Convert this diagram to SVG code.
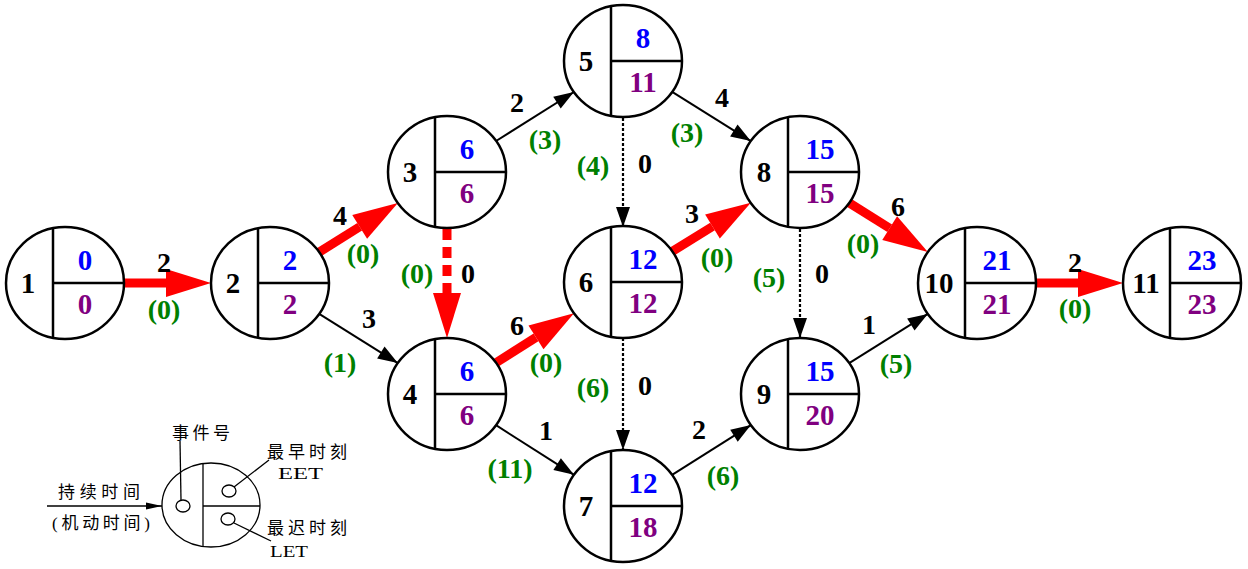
<svg xmlns="http://www.w3.org/2000/svg" width="1248" height="569" viewBox="0 0 1248 569">
<style>
  .node ellipse { fill: #ffffff; stroke: #000; stroke-width: 2.5; }
  .node line { stroke: #000; stroke-width: 2.5; }
  .num { font-family: "Liberation Serif", serif; font-weight: bold; font-size: 29px; text-anchor: middle; fill: #000; }
  .eet { font-family: "Liberation Serif", serif; font-weight: bold; font-size: 29px; text-anchor: middle; fill: #0000ff; }
  .let { font-family: "Liberation Serif", serif; font-weight: bold; font-size: 29px; text-anchor: middle; fill: #800080; }
  .w { font-family: "Liberation Serif", serif; font-weight: bold; font-size: 28px; text-anchor: middle; fill: #000; }
  .f { font-family: "Liberation Serif", serif; font-weight: bold; font-size: 28px; text-anchor: middle; fill: #008000; }
  .crit { stroke: #ff0000; stroke-width: 9; fill: none; marker-end: url(#redhead); }
  .norm { stroke: #000; stroke-width: 2; fill: none; marker-end: url(#blackhead); }
  .dot { stroke: #000; stroke-width: 2.2; stroke-dasharray: 3 2; fill: none; marker-end: url(#blackhead); }
  .leg { font-family: "Liberation Serif", "Noto Sans CJK SC", serif; font-size: 17px; fill: #000; }
  .legl { stroke: #000; stroke-width: 1.3; fill: none; }
</style>
<defs>
  <marker id="blackhead" markerUnits="userSpaceOnUse" markerWidth="22" markerHeight="16" refX="20" refY="7" orient="auto" overflow="visible">
    <path d="M0,0 L20,7 L0,14 z" fill="#000"/>
  </marker>
  <marker id="redhead" markerUnits="userSpaceOnUse" markerWidth="46" markerHeight="30" refX="0" refY="14" orient="auto" overflow="visible">
    <path d="M0,0 L45,14 L0,28 z" fill="#ff0000"/>
  </marker>
  <marker id="leghead" markerUnits="userSpaceOnUse" markerWidth="18" markerHeight="8" refX="16" refY="3.5" orient="auto" overflow="visible">
    <path d="M0,0 L16,3.5 L0,7 z" fill="#000"/>
  </marker>
</defs>
<rect width="1248" height="569" fill="#ffffff"/>

<g id="connectors">
  <line class="crit" x1="124" y1="283" x2="166" y2="283"/>
  <line class="crit" x1="319.2" y1="252.1" x2="359.7" y2="226.8"/>
  <line class="norm" x1="319.2" y1="313.9" x2="397.8" y2="363.1"/>
  <line class="norm" x1="496.1" y1="141" x2="573.9" y2="92"/>
  <line x1="447" y1="229" x2="447" y2="293" stroke="#ff0000" stroke-width="9" stroke-dasharray="11 7" marker-end="url(#redhead)"/>
  <line class="norm" x1="672.2" y1="91.9" x2="750.8" y2="141.1"/>
  <line class="crit" x1="496" y1="362.8" x2="536" y2="337.4"/>
  <line class="norm" x1="496" y1="425.2" x2="574" y2="474.8"/>
  <line class="dot" x1="623" y1="118" x2="623" y2="227"/>
  <line class="dot" x1="623" y1="338" x2="623" y2="450"/>
  <line class="crit" x1="672.3" y1="251.3" x2="712.5" y2="226.5"/>
  <line class="norm" x1="672.1" y1="474.9" x2="750.9" y2="425.1"/>
  <line class="dot" x1="800" y1="229" x2="800" y2="338" stroke-width="3.5" stroke-dasharray="4 2"/>
  <line class="crit" x1="849.2" y1="202.9" x2="889.7" y2="228.2"/>
  <line class="norm" x1="849.2" y1="363.1" x2="927.8" y2="313.9"/>
  <line class="crit" x1="1036" y1="283" x2="1078" y2="283"/>

  <text class="w" x="164" y="272">2</text><text class="f" x="164" y="319">(0)</text>
  <text class="w" x="340" y="225">4</text><text class="f" x="363" y="263">(0)</text>
  <text class="w" x="369" y="328">3</text><text class="f" x="340" y="372">(1)</text>
  <text class="w" x="517" y="112">2</text><text class="f" x="545" y="149">(3)</text>
  <text class="f" x="417" y="283">(0)</text><text class="w" x="468" y="283">0</text>
  <text class="w" x="517" y="335">6</text><text class="f" x="546" y="372">(0)</text>
  <text class="w" x="546" y="440">1</text><text class="f" x="510" y="478">(11)</text>
  <text class="f" x="593" y="175">(4)</text><text class="w" x="645" y="173">0</text>
  <text class="w" x="722" y="107">4</text><text class="f" x="687" y="142">(3)</text>
  <text class="w" x="692" y="223">3</text><text class="f" x="717" y="267">(0)</text>
  <text class="f" x="593" y="397">(6)</text><text class="w" x="645" y="395">0</text>
  <text class="w" x="699" y="439">2</text><text class="f" x="723" y="485">(6)</text>
  <text class="f" x="769" y="287">(5)</text><text class="w" x="822" y="283">0</text>
  <text class="w" x="898" y="216">6</text><text class="f" x="863" y="253">(0)</text>
  <text class="w" x="869" y="334">1</text><text class="f" x="896" y="373">(5)</text>
  <text class="w" x="1075" y="272">2</text><text class="f" x="1075" y="318">(0)</text>
</g>

<g id="node1" class="node">
  <ellipse cx="65" cy="283" rx="59" ry="56"/>
  <line x1="53" y1="228.2" x2="53" y2="337.8"/><line x1="53" y1="283" x2="124" y2="283"/>
  <text class="num" x="28" y="293">1</text><text class="eet" x="85" y="270">0</text><text class="let" x="85" y="314">0</text>
</g>
<g id="node2" class="node">
  <ellipse cx="270" cy="283" rx="59" ry="56"/>
  <line x1="258" y1="228.2" x2="258" y2="337.8"/><line x1="258" y1="283" x2="329" y2="283"/>
  <text class="num" x="233" y="293">2</text><text class="eet" x="290" y="270">2</text><text class="let" x="290" y="314">2</text>
</g>
<g id="node3" class="node">
  <ellipse cx="447" cy="172" rx="59" ry="56"/>
  <line x1="435" y1="117.2" x2="435" y2="226.8"/><line x1="435" y1="172" x2="506" y2="172"/>
  <text class="num" x="410" y="182">3</text><text class="eet" x="467" y="159">6</text><text class="let" x="467" y="203">6</text>
</g>
<g id="node4" class="node">
  <ellipse cx="447" cy="394" rx="59" ry="56"/>
  <line x1="435" y1="339.2" x2="435" y2="448.8"/><line x1="435" y1="394" x2="506" y2="394"/>
  <text class="num" x="410" y="404">4</text><text class="eet" x="467" y="381">6</text><text class="let" x="467" y="425">6</text>
</g>
<g id="node5" class="node">
  <ellipse cx="623" cy="61" rx="59" ry="56"/>
  <line x1="611" y1="6.2" x2="611" y2="115.8"/><line x1="611" y1="61" x2="682" y2="61"/>
  <text class="num" x="586" y="71">5</text><text class="eet" x="643" y="48">8</text><text class="let" x="643" y="92">11</text>
</g>
<g id="node6" class="node">
  <ellipse cx="623" cy="282" rx="59" ry="56"/>
  <line x1="611" y1="227.2" x2="611" y2="336.8"/><line x1="611" y1="282" x2="682" y2="282"/>
  <text class="num" x="586" y="292">6</text><text class="eet" x="643" y="269">12</text><text class="let" x="643" y="313">12</text>
</g>
<g id="node7" class="node">
  <ellipse cx="623" cy="506" rx="59" ry="56"/>
  <line x1="611" y1="451.2" x2="611" y2="560.8"/><line x1="611" y1="506" x2="682" y2="506"/>
  <text class="num" x="586" y="516">7</text><text class="eet" x="643" y="493">12</text><text class="let" x="643" y="537">18</text>
</g>
<g id="node8" class="node">
  <ellipse cx="800" cy="172" rx="59" ry="56"/>
  <line x1="788" y1="117.2" x2="788" y2="226.8"/><line x1="788" y1="172" x2="859" y2="172"/>
  <text class="num" x="764" y="182">8</text><text class="eet" x="820" y="159">15</text><text class="let" x="820" y="203">15</text>
</g>
<g id="node9" class="node">
  <ellipse cx="800" cy="394" rx="59" ry="56"/>
  <line x1="788" y1="339.2" x2="788" y2="448.8"/><line x1="788" y1="394" x2="859" y2="394"/>
  <text class="num" x="764" y="404">9</text><text class="eet" x="820" y="381">15</text><text class="let" x="820" y="425">20</text>
</g>
<g id="node10" class="node">
  <ellipse cx="977" cy="283" rx="59" ry="56"/>
  <line x1="965" y1="228.2" x2="965" y2="337.8"/><line x1="965" y1="283" x2="1036" y2="283"/>
  <text class="num" x="939" y="293">10</text><text class="eet" x="997" y="270">21</text><text class="let" x="997" y="314">21</text>
</g>
<g id="node11" class="node">
  <ellipse cx="1182" cy="283" rx="59" ry="56"/>
  <line x1="1170" y1="228.2" x2="1170" y2="337.8"/><line x1="1170" y1="283" x2="1241" y2="283"/>
  <text class="num" x="1146" y="293">11</text><text class="eet" x="1202" y="270">23</text><text class="let" x="1202" y="314">23</text>
</g>

<g id="legend">
  <ellipse cx="211" cy="505" rx="49" ry="42" class="legl"/>
  <line x1="203" y1="463" x2="203" y2="547" class="legl"/>
  <line x1="203" y1="506" x2="260" y2="506" class="legl"/>
  <ellipse cx="183" cy="506" rx="7" ry="6" class="legl"/>
  <ellipse cx="229" cy="491" rx="7" ry="6" class="legl"/>
  <ellipse cx="228" cy="519" rx="7" ry="6" class="legl"/>
  <line x1="180" y1="441" x2="181" y2="500" class="legl"/>
  <line x1="234" y1="487" x2="269" y2="460" class="legl"/>
  <line x1="234" y1="523" x2="271" y2="541" class="legl"/>
  <line x1="47" y1="506" x2="162" y2="506" class="legl" marker-end="url(#leghead)"/>
  <text class="leg" x="172" y="439" textLength="58" lengthAdjust="spacing">事件号</text>
  <text class="leg" x="267" y="458" textLength="80" lengthAdjust="spacing">最早时刻</text>
  <text class="leg" x="278" y="479" font-size="20" textLength="45" lengthAdjust="spacingAndGlyphs">EET</text>
  <text class="leg" x="58" y="498" textLength="82" lengthAdjust="spacing">持续时间</text>
  <text class="leg" x="52" y="529" textLength="98" lengthAdjust="spacing">(机动时间)</text>
  <text class="leg" x="267" y="534" textLength="80" lengthAdjust="spacing">最迟时刻</text>
  <text class="leg" x="270" y="557" font-size="20" textLength="38" lengthAdjust="spacingAndGlyphs">LET</text>
</g>
</svg>
